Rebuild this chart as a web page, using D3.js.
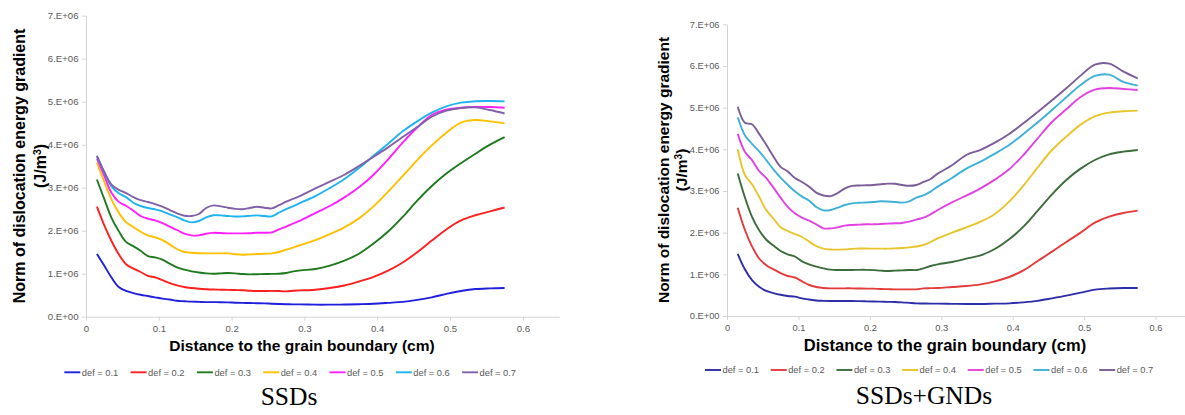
<!DOCTYPE html>
<html><head><meta charset="utf-8">
<script src="https://cdn.jsdelivr.net/npm/d3@7"></script>
<style>body{margin:0;background:#fff;overflow:hidden}</style>
</head><body><svg id="c" width="1185" height="415"></svg>
<script>
// distance to the grain boundary (cm)
const distance = [0.015,0.025,0.035,0.045,0.055,0.065,0.075,0.085,0.095,0.105,0.115,0.125,0.135,0.145,0.155,0.165,0.175,0.185,0.195,0.205,0.215,0.225,0.235,0.245,0.255,0.265,0.275,0.285,0.295,0.315,0.335,0.355,0.375,0.395,0.415,0.435,0.455,0.475,0.495,0.515,0.535,0.555,0.575];
const seriesNames = ["def = 0.1","def = 0.2","def = 0.3","def = 0.4","def = 0.5","def = 0.6","def = 0.7"];
// values in units of 1E+06 J/m^3 — SSDs
const ssd01 = [1.46,1.19,0.91,0.69,0.60,0.55,0.51,0.48,0.45,0.42,0.40,0.37,0.36,0.35,0.345,0.34,0.34,0.337,0.333,0.326,0.322,0.318,0.314,0.31,0.302,0.295,0.291,0.287,0.287,0.28,0.28,0.283,0.291,0.302,0.322,0.345,0.39,0.45,0.531,0.597,0.643,0.659,0.667];
const ssd02 = [2.56,2.13,1.76,1.45,1.22,1.12,1.04,0.95,0.915,0.85,0.78,0.73,0.69,0.667,0.651,0.64,0.632,0.628,0.624,0.62,0.616,0.605,0.597,0.597,0.601,0.597,0.589,0.605,0.612,0.628,0.667,0.725,0.818,0.926,1.07,1.26,1.50,1.77,2.03,2.24,2.36,2.45,2.539];
const ssd03 = [3.19,2.74,2.30,1.99,1.74,1.64,1.535,1.41,1.38,1.326,1.233,1.147,1.093,1.054,1.027,1.008,1.0,1.008,1.016,1.008,0.992,0.984,0.988,0.992,0.996,1.0,1.016,1.054,1.078,1.109,1.186,1.302,1.465,1.70,1.98,2.32,2.70,3.04,3.33,3.57,3.79,4.00,4.174];
const ssd04 = [3.58,3.14,2.73,2.42,2.20,2.085,1.977,1.891,1.845,1.783,1.682,1.574,1.504,1.488,1.477,1.473,1.473,1.473,1.473,1.453,1.442,1.45,1.457,1.465,1.473,1.504,1.558,1.612,1.667,1.783,1.922,2.078,2.287,2.566,2.907,3.271,3.643,3.984,4.279,4.512,4.574,4.543,4.496];
const ssd05 = [3.68,3.28,2.88,2.67,2.58,2.465,2.341,2.279,2.24,2.178,2.093,2.016,1.93,1.891,1.891,1.93,1.95,1.946,1.938,1.938,1.938,1.942,1.953,1.953,1.961,2.031,2.093,2.171,2.24,2.411,2.574,2.775,3.008,3.30,3.66,4.05,4.40,4.69,4.814,4.86,4.88,4.876,4.86];
const ssd06 = [3.74,3.36,3.03,2.87,2.78,2.65,2.574,2.527,2.496,2.45,2.38,2.318,2.24,2.194,2.225,2.31,2.36,2.357,2.341,2.329,2.333,2.345,2.357,2.341,2.333,2.419,2.504,2.574,2.651,2.806,2.992,3.202,3.457,3.744,4.023,4.31,4.543,4.744,4.891,4.977,5.012,5.016,5.008];
const ssd07 = [3.74,3.37,3.07,2.95,2.876,2.783,2.713,2.667,2.62,2.558,2.481,2.403,2.349,2.341,2.388,2.527,2.589,2.566,2.535,2.508,2.5,2.527,2.558,2.535,2.519,2.593,2.674,2.744,2.814,2.984,3.14,3.302,3.504,3.721,3.938,4.18,4.41,4.651,4.791,4.853,4.868,4.806,4.725];
// SSDs+GNDs
const gnd01 = [1.49,1.12,0.86,0.70,0.60,0.55,0.51,0.48,0.464,0.424,0.396,0.372,0.364,0.36,0.36,0.36,0.36,0.356,0.352,0.348,0.344,0.34,0.336,0.328,0.316,0.304,0.30,0.296,0.296,0.292,0.288,0.288,0.296,0.304,0.328,0.364,0.424,0.488,0.56,0.632,0.66,0.672,0.672];
const gnd02 = [2.60,2.07,1.67,1.38,1.22,1.12,1.03,0.96,0.924,0.832,0.744,0.696,0.672,0.664,0.664,0.664,0.664,0.66,0.656,0.656,0.648,0.644,0.64,0.64,0.64,0.64,0.664,0.668,0.672,0.696,0.72,0.76,0.832,0.936,1.096,1.32,1.544,1.776,2.0,2.24,2.384,2.472,2.528];
const gnd03 = [3.42,2.85,2.38,2.06,1.83,1.69,1.56,1.48,1.428,1.312,1.24,1.184,1.144,1.112,1.104,1.104,1.104,1.108,1.108,1.1,1.088,1.08,1.088,1.096,1.104,1.104,1.144,1.2,1.24,1.296,1.376,1.456,1.608,1.84,2.144,2.528,2.92,3.264,3.536,3.744,3.88,3.944,3.984];
const gnd04 = [4.00,3.39,3.16,2.86,2.54,2.34,2.13,2.04,1.968,1.896,1.784,1.68,1.616,1.596,1.592,1.6,1.612,1.62,1.62,1.616,1.616,1.616,1.624,1.632,1.648,1.668,1.704,1.776,1.864,2.0,2.128,2.264,2.448,2.744,3.128,3.568,3.984,4.304,4.592,4.792,4.88,4.912,4.928];
const gnd05 = [4.37,3.94,3.74,3.48,3.31,3.08,2.84,2.62,2.464,2.36,2.288,2.2,2.104,2.104,2.128,2.168,2.184,2.192,2.2,2.2,2.208,2.216,2.224,2.232,2.264,2.312,2.36,2.44,2.544,2.728,2.888,3.064,3.272,3.52,3.864,4.264,4.656,4.96,5.256,5.432,5.472,5.448,5.424];
const gnd06 = [4.77,4.34,4.13,3.95,3.74,3.52,3.32,3.15,2.992,2.864,2.768,2.616,2.536,2.544,2.6,2.664,2.704,2.716,2.724,2.736,2.752,2.748,2.736,2.72,2.752,2.84,2.896,2.984,3.104,3.312,3.536,3.704,3.896,4.104,4.368,4.648,4.944,5.248,5.544,5.76,5.792,5.616,5.528];
const gnd07 = [5.02,4.64,4.60,4.37,4.11,3.83,3.58,3.47,3.312,3.216,3.104,2.96,2.892,2.876,2.952,3.064,3.124,3.132,3.136,3.144,3.16,3.176,3.172,3.144,3.124,3.144,3.216,3.288,3.416,3.616,3.864,3.988,4.16,4.368,4.624,4.896,5.176,5.464,5.768,6.032,6.056,5.864,5.704];

const xTicks = [0,0.1,0.2,0.3,0.4,0.5,0.6];
const xTickLabels = ["0","0.1","0.2","0.3","0.4","0.5","0.6"];
const yTicks = [0,1,2,3,4,5,6,7];
const yTickLabels = ["0.E+00","1.E+06","2.E+06","3.E+06","4.E+06","5.E+06","6.E+06","7.E+06"];
const yTitleLine1 = "Norm of dislocation energy gradient";
const xTitleText = "Distance to the grain boundary (cm)";
const captions = ["SSDs","SSDs+GNDs"];

const colorsLeft = ["#1f1fdc","#ff1f1f","#1f7a1f","#ffc000","#ff1fff","#1fb4f0","#8060a8"];
const colorsRight = ["#2d2daa","#e33a3a","#3c6c3c","#e8c52c","#e242e0","#40b0d8","#7c5c99"];

const svg = d3.select("#c");
svg.append("rect").attr("width",1185).attr("height",415).attr("fill","#fff");
const SANS = "'Liberation Sans', Arial, sans-serif";

function panel(cfg){
  const g = svg.append("g");
  const x = d3.scaleLinear().domain([0,0.65]).range(cfg.xr);
  const y = d3.scaleLinear().domain([0,7]).range(cfg.yr);
  const axColor = "#d4d4d4";
  const ax = g.append("g").attr("transform",`translate(0,${cfg.yr[0]})`)
    .call(d3.axisBottom(x).tickValues(xTicks).tickSize(4).tickSizeOuter(0).tickFormat((d,i)=>xTickLabels[i]));
  const ay = g.append("g").attr("transform",`translate(${cfg.xr[0]},0)`)
    .call(d3.axisLeft(y).tickValues(yTicks).tickSize(4).tickSizeOuter(0).tickFormat((d,i)=>yTickLabels[i]));
  [ax,ay].forEach(a=>{
    a.select(".domain").attr("stroke",axColor).attr("stroke-width",1);
    a.selectAll(".tick line").attr("stroke",axColor);
    a.selectAll(".tick text").attr("fill","#595959").style("font-family",SANS).style("font-size",cfg.tickFs+"px");
  });
  ax.selectAll(".tick text").attr("y",8).attr("dy","0.71em");
  ay.selectAll(".tick text").attr("x",-7.5);

  const line = d3.line().x((d,i)=>x(distance[i])).y(d=>y(d)).curve(d3.curveCatmullRom.alpha(0.5));
  cfg.data.forEach((s,k)=>{
    g.append("path").datum(s).attr("d",line).attr("fill","none")
      .attr("stroke",cfg.colors[k]).attr("stroke-width",1.9).attr("stroke-linejoin","round");
  });

  g.append("text").attr("transform",`translate(${cfg.yt1x},${cfg.ytc}) rotate(-90)`)
    .attr("text-anchor","middle").style("font-family",SANS).style("font-weight","bold")
    .style("font-size",cfg.ytFs+"px").attr("fill","#000").text(yTitleLine1);
  const yt2 = g.append("text").attr("transform",`translate(${cfg.yt2x},${cfg.ytc}) rotate(-90)`)
    .attr("text-anchor","middle").style("font-family",SANS).style("font-weight","bold")
    .style("font-size",cfg.ytFs+"px").attr("fill","#000");
  yt2.append("tspan").text("(J/m");
  yt2.append("tspan").attr("baseline-shift","super").style("font-size",(cfg.ytFs*0.65)+"px").text("3");
  yt2.append("tspan").text(")");

  g.append("text").attr("x",cfg.xtc).attr("y",cfg.xty).attr("text-anchor","middle")
    .style("font-family",SANS).style("font-weight","bold").style("font-size",cfg.xtFs+"px")
    .attr("fill","#000").text(xTitleText);

  seriesNames.forEach((n,k)=>{
    const lx = cfg.lgx + k*cfg.lgStep;
    g.append("line").attr("x1",lx).attr("x2",lx+16).attr("y1",cfg.lgy).attr("y2",cfg.lgy)
      .attr("stroke",cfg.colors[k]).attr("stroke-width",1.9);
    g.append("text").attr("x",lx+17.5).attr("y",cfg.lgy).attr("dy","0.35em")
      .style("font-family",SANS).style("font-size","9.3px").attr("fill","#595959").text(n);
  });

  g.append("text").attr("x",cfg.capx).attr("y",cfg.capy).attr("text-anchor","middle")
    .style("font-family","'Liberation Serif','Times New Roman',serif").style("font-size","25.5px")
    .attr("fill","#000").text(cfg.caption);
}

panel({xr:[86,559.2], yr:[316.7,15.7], data:[ssd01,ssd02,ssd03,ssd04,ssd05,ssd06,ssd07], colors:colorsLeft,
  tickFs:9.6, yt1x:25, yt2x:46, ytc:166, ytFs:16, xtc:302, xty:351, xtFs:15.5,
  lgx:64.3, lgStep:66.3, lgy:372.3, capx:289, capy:405, caption:captions[0]});
panel({xr:[727,1191.3], yr:[316,24.3], data:[gnd01,gnd02,gnd03,gnd04,gnd05,gnd06,gnd07], colors:colorsRight,
  tickFs:9.3, yt1x:668.5, yt2x:687, ytc:170, ytFs:15.5, xtc:945, xty:351, xtFs:16.5,
  lgx:705, lgStep:65.7, lgy:370, capx:924, capy:404, caption:captions[1]});
</script></body></html>
